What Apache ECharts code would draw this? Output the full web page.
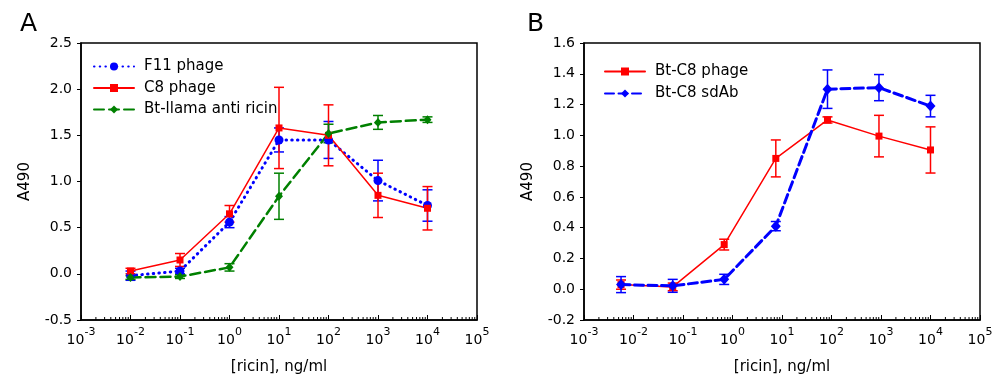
<!DOCTYPE html>
<html>
<head>
<meta charset="utf-8">
<script src="https://cdn.jsdelivr.net/npm/echarts@6/dist/echarts.min.js"></script>
<style>
html,body{margin:0;padding:0;background:#fff;}
#chart{width:1000px;height:385px;}
</style>
</head>
<body>
<div id="chart"></div>
<script>
// ---------- data ----------
const concA = [0.01, 0.1, 1, 10, 100, 1000, 10000];
const f11Mean = [-0.02, 0.03, 0.56, 1.45, 1.45, 1.01, 0.74];
const f11Err  = [0.05, 0.03, 0.06, 0.13, 0.20, 0.22, 0.17];
const c8Mean  = [0.03, 0.15, 0.65, 1.58, 1.50, 0.85, 0.71];
const c8Err   = [0.03, 0.07, 0.09, 0.44, 0.33, 0.24, 0.235];
const llamaMean = [-0.04, -0.03, 0.07, 0.84, 1.52, 1.64, 1.67];
const llamaErr  = [0.02, 0.02, 0.04, 0.25, 0.10, 0.075, 0.03];

const concB = [0.0056, 0.062, 0.68, 7.5, 83, 910, 10000];
const btPhageMean = [0.03, 0.015, 0.29, 0.85, 1.10, 0.995, 0.905];
const btPhageErr  = [0.03, 0.025, 0.035, 0.12, 0.02, 0.135, 0.15];
const sdAbMean = [0.03, 0.022, 0.064, 0.41, 1.30, 1.31, 1.19];
const sdAbErr  = [0.052, 0.042, 0.033, 0.03, 0.125, 0.085, 0.07];

const yTicksA = {min: -0.5, max: 2.5, interval: 0.5};
const yTicksB = {min: -0.2, max: 1.6, interval: 0.2};
const xRange = {min: 0.001, max: 100000};

// ---------- helpers ----------
const FONT = 'DejaVu Sans';
const minorVals = [];
for (let d = -3; d < 5; d++) for (let k = 2; k <= 9; k++) minorVals.push(k * Math.pow(10, d));

function xAxis(gi) {
  return {
    type: 'log', logBase: 10, gridIndex: gi, min: xRange.min, max: xRange.max, splitNumber: 8,
    name: '[ricin], ng/ml', nameLocation: 'middle', nameGap: 40,
    nameTextStyle: {fontFamily: FONT, fontSize: 15, color: '#000'},
    axisLine: {show: true, onZero: false, lineStyle: {color: '#000', width: 1.5}},
    axisTick: {show: true, inside: true, length: 5, lineStyle: {color: '#000', width: 1}},
    splitLine: {show: false},
    axisLabel: {
      margin: 7, color: '#000',
      formatter: v => '{b|10}{s|' + Math.round(Math.log10(v)) + '}',
      rich: {
        b: {fontFamily: FONT, fontSize: 14, color: '#000', lineHeight: 20, verticalAlign: 'bottom'},
        s: {fontFamily: FONT, fontSize: 11, color: '#000', lineHeight: 11, verticalAlign: 'top'}
      }
    }
  };
}
function yAxis(gi, t) {
  return {
    type: 'value', gridIndex: gi, min: t.min, max: t.max, interval: t.interval,
    name: 'A490', nameLocation: 'middle', nameGap: 48, nameRotate: 90,
    nameTextStyle: {fontFamily: FONT, fontSize: 15, color: '#000'},
    axisLine: {show: true, onZero: false, lineStyle: {color: '#000', width: 1.5}},
    axisTick: {show: true, inside: false, length: 4, lineStyle: {color: '#000', width: 1}},
    splitLine: {show: false},
    axisLabel: {margin: 9, fontFamily: FONT, fontSize: 14, color: '#000', formatter: v => v.toFixed(1)}
  };
}
function lineSeries(name, xs, ys, gi, color, width, dash, symbol, size) {
  return {
    name, type: 'line', xAxisIndex: gi, yAxisIndex: gi,
    data: xs.map((x, i) => [x, ys[i]]),
    symbol, symbolSize: size, showSymbol: true,
    itemStyle: {color},
    lineStyle: {color, width, type: dash, cap: 'round'},
    emphasis: {disabled: true}, animation: false, z: 3
  };
}
function errSeries(xs, ys, es, gi, color) {
  return {
    type: 'custom', xAxisIndex: gi, yAxisIndex: gi, silent: true, animation: false, z: 2,
    data: xs.map((x, i) => [x, ys[i] - es[i], ys[i] + es[i]]),
    encode: {x: 0, y: [1, 2]},
    renderItem: (p, api) => {
      const lo = api.coord([api.value(0), api.value(1)]);
      const hi = api.coord([api.value(0), api.value(2)]);
      const w = 5;
      const st = {stroke: color, lineWidth: 1.5};
      return {type: 'group', children: [
        {type: 'line', shape: {x1: lo[0], y1: lo[1], x2: hi[0], y2: hi[1]}, style: st},
        {type: 'line', shape: {x1: lo[0] - w, y1: lo[1], x2: lo[0] + w, y2: lo[1]}, style: st},
        {type: 'line', shape: {x1: hi[0] - w, y1: hi[1], x2: hi[0] + w, y2: hi[1]}, style: st}
      ]};
    }
  };
}
function minorTickSeries(gi, yMin) {
  return {
    type: 'custom', xAxisIndex: gi, yAxisIndex: gi, silent: true, animation: false, z: 1,
    data: minorVals.map(v => [v, yMin]),
    renderItem: (p, api) => {
      const c = api.coord([api.value(0), api.value(1)]);
      return {type: 'line', shape: {x1: c[0], y1: c[1], x2: c[0], y2: c[1] - 3}, style: {stroke: '#000', lineWidth: 1}};
    }
  };
}

const chart = echarts.init(document.getElementById('chart'), null, {renderer: 'canvas'});
chart.setOption({
  animation: false,
  backgroundColor: '#fff',
  title: [
    {text: 'A', left: 15, top: 7, textStyle: {fontFamily: FONT, fontSize: 25, fontWeight: 'normal', color: '#000'}},
    {text: 'B', left: 522, top: 7, textStyle: {fontFamily: FONT, fontSize: 25, fontWeight: 'normal', color: '#000'}}
  ],
  grid: [
    {left: 81, top: 43, width: 396, height: 277, show: true, borderColor: '#000', borderWidth: 1.5, backgroundColor: 'transparent'},
    {left: 584, top: 43, width: 396, height: 277, show: true, borderColor: '#000', borderWidth: 1.5, backgroundColor: 'transparent'}
  ],
  legend: [
    {data: ['F11 phage', 'C8 phage', 'Bt-llama anti ricin'], orient: 'vertical', left: 88, top: 54,
     itemWidth: 40, itemHeight: 10, itemGap: 6.5, selectedMode: false,
     textStyle: {fontFamily: FONT, fontSize: 15, color: '#000', padding: [0, 0, 0, 5]}},
    {data: ['Bt-C8 phage', 'Bt-C8 sdAb'], orient: 'vertical', left: 599, top: 59,
     itemWidth: 40, itemHeight: 10, itemGap: 7, selectedMode: false,
     textStyle: {fontFamily: FONT, fontSize: 15, color: '#000', padding: [0, 0, 0, 5]}}
  ],
  xAxis: [xAxis(0), xAxis(1)],
  yAxis: [yAxis(0, yTicksA), yAxis(1, yTicksB)],
  series: [
    minorTickSeries(0, yTicksA.min),
    minorTickSeries(1, yTicksB.min),
    errSeries(concA, f11Mean, f11Err, 0, '#0000ff'),
    errSeries(concA, c8Mean, c8Err, 0, '#ff0000'),
    errSeries(concA, llamaMean, llamaErr, 0, '#008000'),
    lineSeries('F11 phage', concA, f11Mean, 0, '#0000ff', 3, [0.5, 5.2], 'circle', 9),
    lineSeries('C8 phage', concA, c8Mean, 0, '#ff0000', 1.5, 'solid', 'rect', 7),
    lineSeries('Bt-llama anti ricin', concA, llamaMean, 0, '#008000', 2.5, [10, 5], 'diamond', [8, 9]),
    errSeries(concB, btPhageMean, btPhageErr, 1, '#ff0000'),
    errSeries(concB, sdAbMean, sdAbErr, 1, '#0000ff'),
    lineSeries('Bt-C8 phage', concB, btPhageMean, 1, '#ff0000', 1.5, 'solid', 'rect', 7),
    lineSeries('Bt-C8 sdAb', concB, sdAbMean, 1, '#0000ff', 3, [9, 4.5], 'diamond', [10, 11])
  ]
});
</script>
</body>
</html>
